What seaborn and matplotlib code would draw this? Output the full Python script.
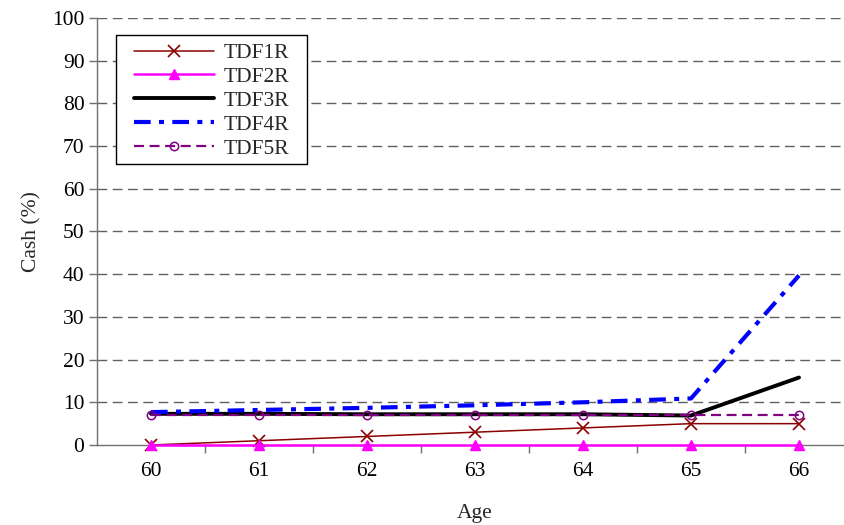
import matplotlib
matplotlib.use("Agg")
import matplotlib.pyplot as plt
from matplotlib.patches import Rectangle
import seaborn as sns
import pandas as pd

ages = [60, 61, 62, 63, 64, 65, 66]
tdf1r = [0, 1, 2, 3, 4, 5, 5]
tdf2r = [0, 0, 0, 0, 0, 0, 0]
tdf3r = [7.3, 7.3, 7.2, 7.2, 7.2, 6.9, 15.8]
tdf4r = [7.7, 8.2, 8.7, 9.3, 10.0, 10.9, 39.7]
tdf5r = [7.0, 7.0, 7.0, 7.0, 7.0, 7.0, 7.0]
series_names = ["TDF1R", "TDF2R", "TDF3R", "TDF4R", "TDF5R"]
yticks = list(range(0, 101, 10))

sns.set_theme(style="white")
plt.rcParams['font.family'] = ['Liberation Serif', 'DejaVu Serif']

fig = plt.figure(figsize=(8.44, 5.25), dpi=100)
ax = fig.add_axes([97/844, 80/525, 756/844, 427/525])

df = pd.DataFrame({"Age": ages * 5,
                   "Cash": tdf1r + tdf2r + tdf3r + tdf4r + tdf5r,
                   "Series": sum([[n] * len(ages) for n in series_names], [])})

styles = {
    "TDF1R": dict(color="#8B0000", linewidth=1.1, marker="x", markersize=9, mew=1.2,
                  mfc="#8B0000", mec="#8B0000"),
    "TDF2R": dict(color="#FF00FF", linewidth=1.8, marker="^", markersize=7.5, mew=1.0,
                  mfc="#FF00FF", mec="#FF00FF"),
    "TDF3R": dict(color="black", linewidth=2.8),
    "TDF4R": dict(color="#0000FF", linewidth=3.0, dashes=(4, 2, 1.2, 2)),
    "TDF5R": dict(color="#800080", linewidth=1.6, dashes=(4.5, 2.5), marker="o", markersize=6,
                  mfc="none", mec="#800080", mew=1.1),
}
for i, name in enumerate(series_names):
    sub = df[df["Series"] == name]
    st = dict(styles[name])
    dashes = st.pop("dashes", None)
    marker = st.pop("marker", None)
    ms = st.pop("markersize", None)
    mew = st.pop("mew", None)
    mfc = st.pop("mfc", None)
    mec = st.pop("mec", None)
    sns.lineplot(data=sub, x="Age", y="Cash", ax=ax, label=name, zorder=3 + i, **st)
    ln = ax.lines[-1]
    ln.set_clip_on(False)
    if dashes is not None:
        ln.set_dashes(dashes)
    if marker is not None:
        ln.set_marker(marker)
        ln.set_markersize(ms)
        ln.set_markeredgewidth(mew)
        ln.set_markerfacecolor(mfc)
        ln.set_markeredgecolor(mec)

ax.set_xlim(59.5, 66.5)
ax.set_ylim(0, 100)
ax.set_yticks(yticks)
ax.set_xticks(ages)
ax.set_xticks([a + 0.5 for a in ages[:-1]], minor=True)
ax.tick_params(axis="x", which="major", length=0, pad=12, labelsize=15.5, colors="black")
ax.tick_params(axis="x", which="minor", length=6, width=1, color="#707070", direction="out", bottom=True)
ax.tick_params(axis="y", which="major", length=6, width=1, color="#707070", direction="out",
               left=True, pad=3, labelsize=15.5, labelcolor="black")
for lbl in ax.get_xticklabels():
    lbl.set_color("black")

for y in yticks[1:]:
    ax.axhline(y, color="#606060", linewidth=1.0, linestyle=(0, (7, 4)), zorder=1)

for s in ["top", "right"]:
    ax.spines[s].set_visible(False)
for s in ["left", "bottom"]:
    ax.spines[s].set_color("#707070")
    ax.spines[s].set_linewidth(1.0)
    ax.spines[s].set_zorder(2)

ax.set_xlabel("Age", fontsize=15.5, labelpad=17)
ax.set_ylabel("Cash (%)", fontsize=15.5, labelpad=8)

# legend frame drawn as a rectangle, legend contents without frame
x0, x1 = (116 - 97) / 756, (307 - 97) / 756
y0, y1 = (445 - 164) / 427, (445 - 35) / 427
ax.add_patch(Rectangle((x0, y0), x1 - x0, y1 - y0, transform=ax.transAxes,
                       facecolor="white", edgecolor="black", linewidth=1.0, zorder=9))
leg = ax.legend(loc="upper left", bbox_to_anchor=((139 - 97) / 756 - 0.006, (445 - 43) / 427),
                fontsize=15.5, handlelength=3.7, labelspacing=0.18, frameon=False,
                borderpad=0.0, handletextpad=0.45, borderaxespad=0, numpoints=1)
leg.set_zorder(10)

fig.savefig("out.png", dpi=100)
